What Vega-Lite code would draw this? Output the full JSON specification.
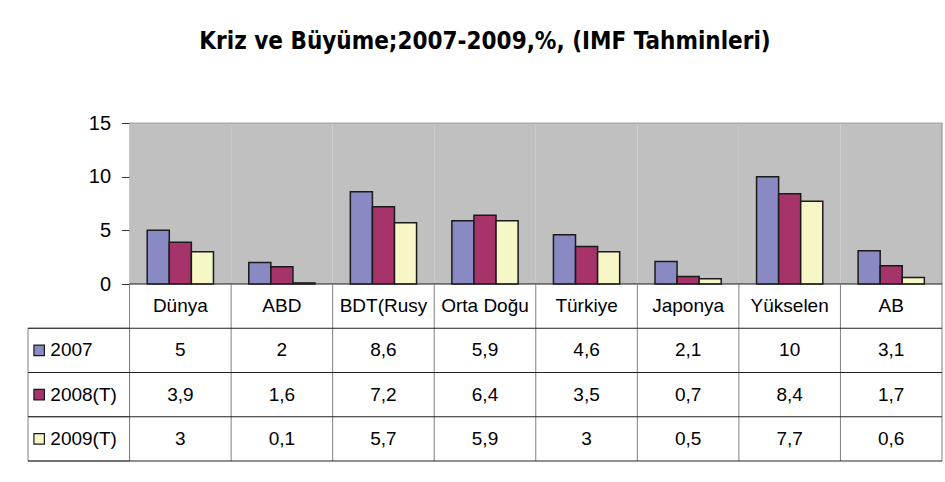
{
  "$schema": "https://vega.github.io/schema/vega-lite/v6.json",
  "padding": {"left": 27, "top": 30, "right": 4, "bottom": 22},
  "background": "white",
  "title": {
    "text": "Kriz ve Büyüme;2007-2009,%, (IMF Tahminleri)",
    "font": "DejaVu Sans Condensed, Liberation Sans, sans-serif",
    "fontSize": 24,
    "fontWeight": "bold",
    "color": "#000000",
    "anchor": "middle",
    "offset": 59
  },
  "datasets": {
    "growth": [
      {"region": "Dünya", "series": "2007", "value": 5},
      {"region": "Dünya", "series": "2008(T)", "value": 3.9},
      {"region": "Dünya", "series": "2009(T)", "value": 3},
      {"region": "ABD", "series": "2007", "value": 2},
      {"region": "ABD", "series": "2008(T)", "value": 1.6},
      {"region": "ABD", "series": "2009(T)", "value": 0.1},
      {"region": "BDT(Rusy", "series": "2007", "value": 8.6},
      {"region": "BDT(Rusy", "series": "2008(T)", "value": 7.2},
      {"region": "BDT(Rusy", "series": "2009(T)", "value": 5.7},
      {"region": "Orta Doğu", "series": "2007", "value": 5.9},
      {"region": "Orta Doğu", "series": "2008(T)", "value": 6.4},
      {"region": "Orta Doğu", "series": "2009(T)", "value": 5.9},
      {"region": "Türkiye", "series": "2007", "value": 4.6},
      {"region": "Türkiye", "series": "2008(T)", "value": 3.5},
      {"region": "Türkiye", "series": "2009(T)", "value": 3},
      {"region": "Japonya", "series": "2007", "value": 2.1},
      {"region": "Japonya", "series": "2008(T)", "value": 0.7},
      {"region": "Japonya", "series": "2009(T)", "value": 0.5},
      {"region": "Yükselen", "series": "2007", "value": 10},
      {"region": "Yükselen", "series": "2008(T)", "value": 8.4},
      {"region": "Yükselen", "series": "2009(T)", "value": 7.7},
      {"region": "AB", "series": "2007", "value": 3.1},
      {"region": "AB", "series": "2008(T)", "value": 1.7},
      {"region": "AB", "series": "2009(T)", "value": 0.6}
    ],
    "regions": [
      {"region": "Dünya"}, {"region": "ABD"}, {"region": "BDT(Rusy"}, {"region": "Orta Doğu"},
      {"region": "Türkiye"}, {"region": "Japonya"}, {"region": "Yükselen"}, {"region": "AB"}
    ],
    "series": [
      {"series": "2007"}, {"series": "2008(T)"}, {"series": "2009(T)"}
    ]
  },
  "spacing": 0,
  "bounds": "flush",
  "vconcat": [
    {
      "width": 914,
      "height": 161,
      "layer": [
        {
          "data": {"name": "regions"},
          "mark": {"type": "rect", "color": "#C0C0C0"},
          "encoding": {
            "x": {
              "field": "region", "type": "nominal",
              "scale": {"domain": ["lbl", "Dünya", "ABD", "BDT(Rusy", "Orta Doğu", "Türkiye", "Japonya", "Yükselen", "AB"], "paddingInner": 0, "paddingOuter": 0},
              "axis": null
            },
            "y": {
              "datum": 0, "type": "quantitative",
              "scale": {"domain": [0, 15], "nice": false},
              "axis": {
                "values": [0, 5, 10, 15],
                "offset": -101.6,
                "grid": false,
                "domain": true,
                "domainColor": "#888888",
                "ticks": true,
                "tickSize": 8,
                "tickColor": "#333333",
                "labelFontSize": 20,
                "labelFont": "Liberation Sans, Arial, sans-serif",
                "labelColor": "#000000",
                "labelPadding": 11,
                "title": null
              }
            },
            "y2": {"datum": 15}
          }
        },
        {
          "data": {"name": "regions"},
          "mark": {"type": "tick", "color": "#888888", "thickness": 1, "size": 102},
          "encoding": {
            "x": {"field": "region", "type": "nominal"},
            "y": {"datum": 15, "type": "quantitative"}
          }
        },
        {
          "data": {"name": "regions"},
          "transform": [{"filter": "datum.region === 'AB'"}],
          "mark": {"type": "rule", "color": "#888888"},
          "encoding": {
            "x": {"field": "region", "type": "nominal", "bandPosition": 1},
            "y": {"datum": 0, "type": "quantitative"},
            "y2": {"datum": 15}
          }
        },
        {
          "data": {"name": "growth"},
          "mark": {"type": "bar", "stroke": "#1a1a1a", "strokeWidth": 1.5},
          "encoding": {
            "x": {"field": "region", "type": "nominal"},
            "xOffset": {"field": "series", "type": "nominal", "scale": {"paddingInner": 0, "paddingOuter": 0.8}},
            "y": {"field": "value", "type": "quantitative"},
            "color": {
              "field": "series", "type": "nominal",
              "scale": {"domain": ["2007", "2008(T)", "2009(T)"], "range": ["#8989C4", "#A6346A", "#F6F6C6"]},
              "legend": null
            }
          }
        },
        {
          "data": {"name": "regions"},
          "mark": {"type": "tick", "color": "#222222", "thickness": 1.5, "size": 102},
          "encoding": {
            "x": {"field": "region", "type": "nominal"},
            "y": {"datum": 0, "type": "quantitative"}
          }
        }
      ]
    },
    {
      "width": 914,
      "height": 177,
      "layer": [
        {
          "data": {"name": "series"},
          "mark": {"type": "rect", "fill": "white", "stroke": "#808080", "strokeWidth": 1},
          "encoding": {
            "x": {
              "datum": "lbl", "type": "nominal",
              "scale": {"domain": ["lbl", "Dünya", "ABD", "BDT(Rusy", "Orta Doğu", "Türkiye", "Japonya", "Yükselen", "AB"], "paddingInner": 0, "paddingOuter": 0},
              "axis": null
            },
            "y": {
              "field": "series", "type": "nominal",
              "scale": {"domain": ["hdr", "2007", "2008(T)", "2009(T)"], "paddingInner": 0, "paddingOuter": 0},
              "axis": null
            }
          }
        },
        {
          "data": {"name": "regions"},
          "mark": {"type": "rule", "color": "#808080"},
          "encoding": {
            "x": {"field": "region", "type": "nominal", "bandPosition": 0}
          }
        },
        {
          "data": {"name": "regions"},
          "transform": [{"filter": "datum.region === 'AB'"}],
          "mark": {"type": "rule", "color": "#808080"},
          "encoding": {
            "x": {"field": "region", "type": "nominal", "bandPosition": 1}
          }
        },
        {
          "data": {"name": "series"},
          "mark": {"type": "rule", "color": "#222222"},
          "encoding": {
            "y": {"field": "series", "type": "nominal", "bandPosition": 0}
          }
        },
        {
          "data": {"name": "series"},
          "transform": [{"filter": "datum.series === '2009(T)'"}],
          "mark": {"type": "rule", "color": "#222222"},
          "encoding": {
            "y": {"field": "series", "type": "nominal", "bandPosition": 1}
          }
        },
        {
          "data": {"name": "regions"},
          "mark": {"type": "text", "fontSize": 19, "font": "Liberation Sans, Arial, sans-serif", "color": "#000000"},
          "encoding": {
            "x": {"field": "region", "type": "nominal"},
            "y": {"datum": "hdr", "type": "nominal"},
            "text": {"field": "region", "type": "nominal"}
          }
        },
        {
          "data": {"name": "growth"},
          "mark": {"type": "text", "fontSize": 19, "font": "Liberation Sans, Arial, sans-serif", "color": "#000000"},
          "encoding": {
            "x": {"field": "region", "type": "nominal"},
            "y": {"field": "series", "type": "nominal"},
            "text": {"field": "value", "type": "quantitative", "format": ".1~f"}
          }
        },
        {
          "data": {"name": "series"},
          "mark": {"type": "square", "size": 110, "opacity": 1, "stroke": "#1a1a1a", "strokeWidth": 1.2, "filled": true},
          "encoding": {
            "x": {"datum": "lbl", "type": "nominal", "bandPosition": 0.11},
            "y": {"field": "series", "type": "nominal"},
            "color": {
              "field": "series", "type": "nominal",
              "scale": {"domain": ["2007", "2008(T)", "2009(T)"], "range": ["#8989C4", "#A6346A", "#F6F6C6"]},
              "legend": null
            }
          }
        },
        {
          "data": {"name": "series"},
          "mark": {"type": "text", "align": "left", "fontSize": 19, "font": "Liberation Sans, Arial, sans-serif", "color": "#000000"},
          "encoding": {
            "x": {"datum": "lbl", "type": "nominal", "bandPosition": 0.22},
            "y": {"field": "series", "type": "nominal"},
            "text": {"field": "series", "type": "nominal"}
          }
        }
      ]
    }
  ],
  "config": {
    "view": {"stroke": null},
    "locale": {
      "number": {"decimal": ",", "thousands": ".", "grouping": [3], "currency": ["", " TL"]}
    }
  }
}
